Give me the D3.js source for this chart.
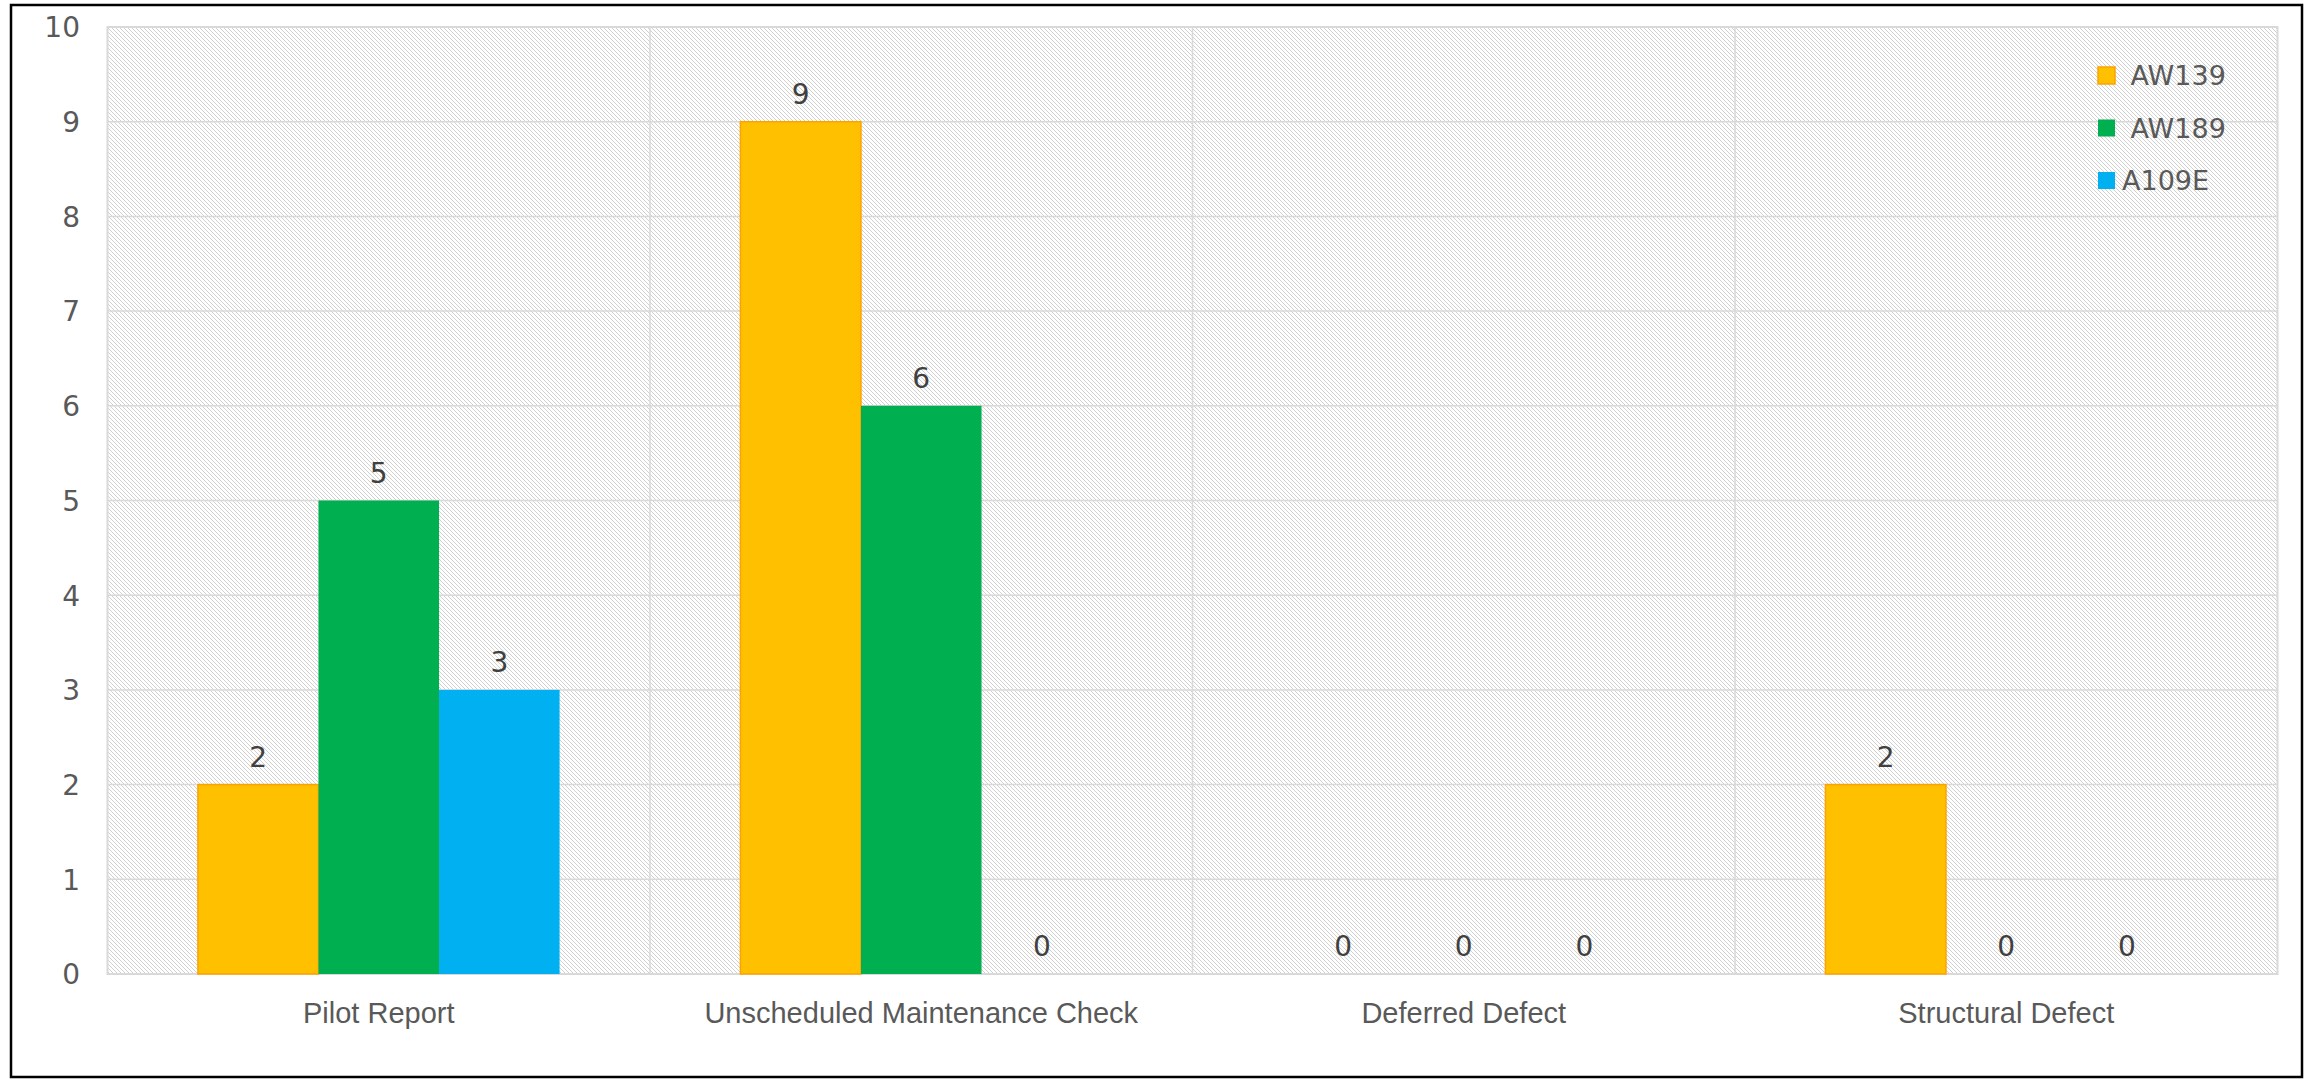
<!DOCTYPE html>
<html>
<head>
<meta charset="utf-8">
<script src="https://cdn.jsdelivr.net/npm/d3@7"></script>
<style>
  html, body { margin: 0; padding: 0; background: #fff; }
  svg { display: block; }
</style>
</head>
<body>
<svg id="chart" width="2310" height="1080"></svg>
<script>
const categories = ["Pilot Report", "Unscheduled Maintenance Check", "Deferred Defect", "Structural Defect"];
const seriesNames = [" AW139", " AW189", "A109E"];
const aw139 = [2, 9, 0, 2];
const aw189 = [5, 6, 0, 0];
const a109e = [3, 0, 0, 0];
const yTicks = [0, 1, 2, 3, 4, 5, 6, 7, 8, 9, 10];
const colors = ["#FFC000", "#00B050", "#00B0F0"];
const strokes = ["#FFA200", "none", "none"];

const seriesValues = [aw139, aw189, a109e];
const table = categories.map((c, i) => ({
  category: c,
  values: seriesNames.map((s, j) => ({ series: j, value: seriesValues[j][i] }))
}));

const svg = d3.select("#chart");
const plot = { left: 107.5, top: 27, right: 2277.5, bottom: 974 };

// outer border
svg.append("rect").attr("x", 11).attr("y", 5).attr("width", 2291).attr("height", 1072)
  .attr("fill", "#fff").attr("stroke", "#000").attr("stroke-width", 2.5);

const defs = svg.append("defs");
const pat = defs.append("pattern").attr("id", "hatch").attr("patternUnits", "userSpaceOnUse")
  .attr("width", 4).attr("height", 4);
pat.append("rect").attr("width", 4).attr("height", 4).attr("fill", "#fff");
pat.selectAll("rect.px").data([0, 1, 2, 3]).join("rect").attr("class", "px")
  .attr("x", d => d).attr("y", d => d).attr("width", 1).attr("height", 1)
  .attr("fill", "#d0d0d0").attr("shape-rendering", "crispEdges");

const x0 = d3.scaleBand().domain(categories).range([plot.left, plot.right]).paddingInner(0).paddingOuter(0);
const x1 = d3.scaleBand().domain(d3.range(seriesNames.length)).range([0, x0.bandwidth()])
  .paddingInner(0).paddingOuter(0.75);
const y = d3.scaleLinear().domain([0, 10]).range([plot.bottom, plot.top]);

// plot background
svg.append("rect").attr("x", 108).attr("y", 27)
  .attr("width", 2170).attr("height", 947)
  .attr("fill", "url(#hatch)");

// horizontal gridlines
svg.append("g").selectAll("line").data(yTicks).join("line")
  .attr("x1", plot.left).attr("x2", plot.right)
  .attr("y1", d => y(d)).attr("y2", d => y(d))
  .attr("stroke", "#d9d9d9").attr("stroke-width", 1.5);

// vertical category separators
svg.append("g").selectAll("line").data(categories.slice(1)).join("line")
  .attr("x1", d => x0(d)).attr("x2", d => x0(d))
  .attr("y1", plot.top).attr("y2", plot.bottom)
  .attr("stroke", "#d9d9d9").attr("stroke-width", 1.5);

// plot border
svg.append("rect").attr("x", plot.left).attr("y", plot.top)
  .attr("width", plot.right - plot.left).attr("height", plot.bottom - plot.top)
  .attr("fill", "none").attr("stroke", "#d9d9d9").attr("stroke-width", 2);

// y axis labels
const yAxis = d3.axisLeft(y).tickValues(yTicks).tickSize(0).tickPadding(0).tickFormat(d3.format("d"));
const yg = svg.append("g").attr("transform", `translate(${80},0)`).call(yAxis);
yg.select(".domain").remove();
yg.selectAll("text").attr("font-family", "'DejaVu Sans', sans-serif").attr("font-size", 28)
  .attr("fill", "#595959").attr("dy", "0.35em");

// x axis labels
const xAxis = d3.axisBottom(x0).tickSize(0).tickPadding(0);
const xg = svg.append("g").attr("transform", `translate(0,${1023})`).call(xAxis);
xg.select(".domain").remove();
xg.selectAll("text").attr("font-family", "'Liberation Sans', Arial, sans-serif").attr("font-size", 29)
  .attr("fill", "#595959").attr("dy", 0);

// bars
const groups = svg.append("g").selectAll("g").data(table).join("g")
  .attr("transform", d => `translate(${x0(d.category)},0)`);

groups.selectAll("rect").data(d => d.values.filter(v => v.value > 0)).join("rect")
  .attr("x", d => x1(d.series))
  .attr("y", d => y(d.value))
  .attr("width", x1.bandwidth())
  .attr("height", d => y(0) - y(d.value))
  .attr("fill", d => colors[d.series])
  .attr("stroke", d => strokes[d.series])
  .attr("stroke-width", 1.5);

// value labels
groups.selectAll("text").data(d => d.values).join("text")
  .attr("x", d => x1(d.series) + x1.bandwidth() / 2)
  .attr("y", d => y(d.value) - 18)
  .attr("text-anchor", "middle")
  .attr("font-family", "'DejaVu Sans', sans-serif").attr("font-size", 28)
  .attr("fill", "#404040")
  .text(d => d.value);

// legend
const legend = svg.append("g").attr("transform", "translate(2098,67)");
const li = legend.selectAll("g").data(seriesNames).join("g")
  .attr("transform", (d, i) => `translate(0,${i * 52.5})`);
li.append("rect").attr("width", 17).attr("height", 17)
  .attr("fill", (d, i) => colors[i])
  .attr("stroke", (d, i) => strokes[i]).attr("stroke-width", 1.5);
li.append("text").attr("x", 24).attr("y", 8.5).attr("dy", "0.36em")
  .attr("xml:space", "preserve").style("white-space", "pre")
  .attr("font-family", "'DejaVu Sans', sans-serif").attr("font-size", 27)
  .attr("fill", "#595959")
  .text(d => d);
</script>
</body>
</html>
